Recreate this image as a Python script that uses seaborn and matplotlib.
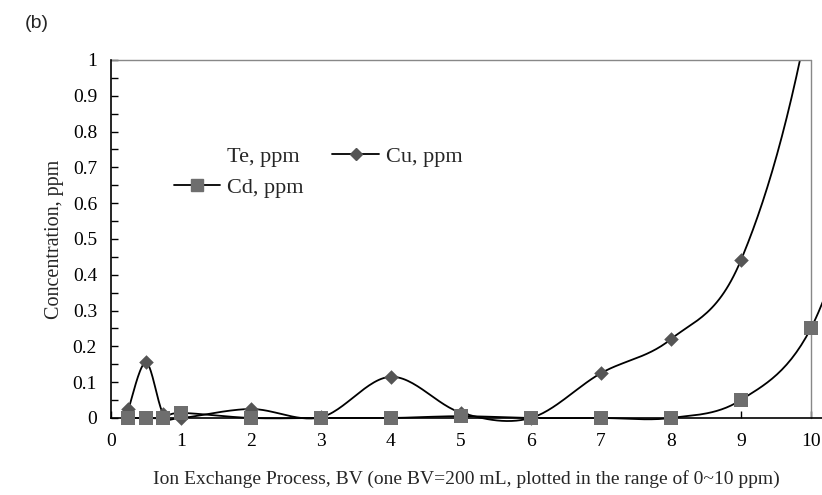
import numpy as np
import pandas as pd
import matplotlib.pyplot as plt
import seaborn as sns
from matplotlib.lines import Line2D
from matplotlib.patches import Rectangle
from matplotlib.ticker import MultipleLocator

# ---- data ----
bv = [0.25, 0.5, 0.75, 1, 2, 3, 4, 5, 6, 7, 8, 9, 10, 11]
cu_ppm = [0.025, 0.155, 0.01, 0.0, 0.025, 0.002, 0.115, 0.015, 0.0, 0.125, 0.22, 0.44, 1.15, 2.5]
cd_ppm = [0.0, 0.0, 0.0, 0.014, 0.0, 0.0, 0.0, 0.005, 0.0, 0.0, 0.0, 0.05, 0.25, 0.8]
x_ticks = list(range(0, 11))
y_ticks = [0, 0.1, 0.2, 0.3, 0.4, 0.5, 0.6, 0.7, 0.8, 0.9, 1]
y_ticklabels = ["0", "0.1", "0.2", "0.3", "0.4", "0.5", "0.6", "0.7", "0.8", "0.9", "1"]


def excel_smooth(x, y, n=30):
    # bezier smoothing like Excel's "smoothed line"
    p = np.column_stack([x, y]).astype(float)
    out = []
    for i in range(len(p) - 1):
        p0 = p[i - 1] if i > 0 else p[i]
        p1, p2 = p[i], p[i + 1]
        p3 = p[i + 2] if i + 2 < len(p) else p[i + 1]
        c1 = p1 + (p2 - p0) / 6
        c2 = p2 - (p3 - p1) / 6
        t = np.linspace(0, 1, n)[:, None]
        seg = ((1 - t) ** 3) * p1 + 3 * ((1 - t) ** 2) * t * c1 + 3 * (1 - t) * t ** 2 * c2 + t ** 3 * p2
        out.append(seg if i == 0 else seg[1:])
    s = np.vstack(out)
    return pd.DataFrame({"x": s[:, 0], "y": s[:, 1]})


sns.set_theme(style="white")
plt.rcParams["font.family"] = ["Liberation Serif", "DejaVu Serif"]

fig = plt.figure(figsize=(8.22, 4.95), dpi=100)
ax = fig.add_axes([0.135, 0.1556, 0.865, 0.7232])

clip = Rectangle((-0.2, -0.05), 10.6, 1.05, transform=ax.transData)

cu_s = excel_smooth(bv, cu_ppm)
cd_s = excel_smooth(bv, cd_ppm)
sns.lineplot(data=cu_s, x="x", y="y", sort=False, estimator=None, color="black", lw=1.3, ax=ax)
sns.lineplot(data=cd_s, x="x", y="y", sort=False, estimator=None, color="black", lw=1.3, ax=ax)
for ln in ax.lines:
    ln.set_clip_path(clip)

df = pd.DataFrame({"bv": bv, "cu": cu_ppm, "cd": cd_ppm})
vis = df[df["bv"] <= 10]
cu_vis = vis[vis["cu"] <= 1]
sns.scatterplot(data=cu_vis, x="bv", y="cu", marker="D", s=55, color="#555555",
                edgecolor="#555555", linewidth=0, ax=ax, clip_on=False, zorder=4)
sns.scatterplot(data=vis, x="bv", y="cd", marker="s", s=100, color="#6e6e6e",
                edgecolor="#6e6e6e", linewidth=0, ax=ax, clip_on=False, zorder=5)

ax.set_xlim(0, 10.16)
ax.set_ylim(0, 1)
ax.set_xticks(x_ticks)
ax.set_xticklabels([str(v) for v in x_ticks])
ax.set_yticks(y_ticks)
ax.set_yticklabels(y_ticklabels)
ax.yaxis.set_minor_locator(MultipleLocator(0.05))
ax.tick_params(axis="both", which="both", direction="in", length=5, width=1, color="black",
               labelsize=14, labelcolor="black")
ax.tick_params(axis="x", pad=11)
ax.tick_params(axis="y", pad=10)
ax.tick_params(axis="y", which="minor", left=True, length=5)
ax.tick_params(axis="x", bottom=True)
ax.tick_params(axis="y", left=True)

for side in ["top", "right"]:
    ax.spines[side].set_visible(False)
for side in ["left", "bottom"]:
    ax.spines[side].set_color("black")
    ax.spines[side].set_linewidth(1.2)
ax.plot([0, 10], [1, 1], color="#888888", lw=1, clip_on=False)
ax.plot([10, 10], [0, 1], color="#888888", lw=1, clip_on=False)

ax.set_xlabel("Ion Exchange Process, BV (one BV=200 mL, plotted in the range of 0~10 ppm)",
              fontsize=14, labelpad=14)
ax.set_ylabel("Concentration, ppm", fontsize=14.5, labelpad=6)

handles = [
    Line2D([], [], color="none", label="Te, ppm"),
    Line2D([], [], color="black", lw=1.3, marker="s", ms=8, mfc="#6e6e6e", mec="#6e6e6e", label="Cd, ppm"),
    Line2D([], [], color="black", lw=1.3, marker="D", ms=6, mfc="#555555", mec="#555555", label="Cu, ppm"),
]
ax.legend(handles=handles, ncol=2, frameon=False, fontsize=16, loc="upper left",
          bbox_to_anchor=(0.06, 0.814), handlelength=2.1, columnspacing=1.3,
          labelspacing=0.47, handletextpad=0.3)

fig.text(0.03, 0.97, "(b)", fontsize=14, family="Liberation Sans", va="top")

fig.savefig("out.png", dpi=100)
